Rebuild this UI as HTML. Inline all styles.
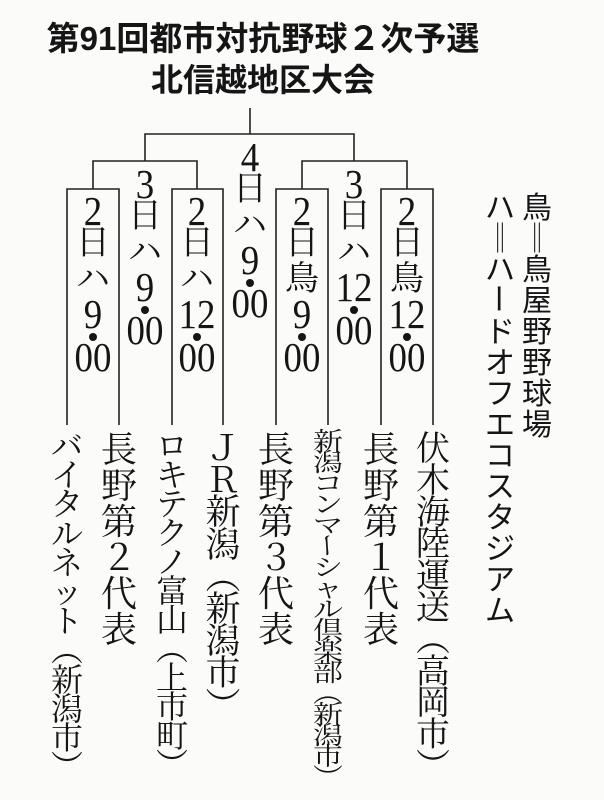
<!DOCTYPE html>
<html><head><meta charset="utf-8"><style>
body{margin:0;background:#fff;}
#c{position:relative;width:604px;height:800px;overflow:hidden;background:#fbfbfa;color:#151515;}
.t{position:absolute;left:0;width:526px;text-align:center;font-family:"Liberation Sans","Noto Sans CJK JP",sans-serif;font-weight:bold;white-space:nowrap;}
.col{position:absolute;width:50px;}
.col div{position:absolute;left:0;width:50px;text-align:center;line-height:1;white-space:nowrap;}
.d{font-family:"Liberation Serif",serif;font-size:41px;transform:scaleX(0.9);}
.k{font-family:"Noto Serif CJK JP","Liberation Serif",serif;font-size:34px;}
.col .dot{left:21px;width:8px;height:8px;border-radius:50%;background:#151515;}
.v{position:absolute;top:430px;width:50px;font-family:"Noto Serif CJK JP",serif;}
.v span,.lg span{display:block;text-align:center;white-space:nowrap;overflow:visible;}
.r{transform:rotate(90deg);}
.lg{position:absolute;top:190px;width:40px;font-family:"Noto Sans CJK JP",sans-serif;font-size:30px;}
.lg span{height:31px;line-height:31px;}
</style></head><body><div id="c">
<div class="t" style="top:12px;font-size:33px;">第91回都市対抗野球２次予選</div>
<div class="t" style="top:55px;font-size:32px;">北信越地区大会</div>
<svg width="604" height="800" style="position:absolute;left:0;top:0" fill="none" stroke="#222" stroke-width="1.6">
<path d="M250 108V134M145 161V134H354V161"/>
<path d="M93 189V161H197V189M302 189V161H407V189"/>
<path d="M67 425V189H119V425M172 425V189H223V425M276 425V189H328V425M381 425V189H433V425"/>
</svg>
<div class="col" style="left:68px;top:197px"><div class="d" style="top:-6px">2</div><div class="k" style="top:26px">日</div><div class="k" style="top:62px">ハ</div><div class="d" style="top:97px">9</div><div class="dot" style="top:136px"></div><div class="d" style="top:140px">00</div></div>
<div class="col" style="left:120px;top:170px"><div class="d" style="top:-6px">3</div><div class="k" style="top:26px">日</div><div class="k" style="top:62px">ハ</div><div class="d" style="top:97px">9</div><div class="dot" style="top:136px"></div><div class="d" style="top:140px">00</div></div>
<div class="col" style="left:172px;top:197px"><div class="d" style="top:-6px">2</div><div class="k" style="top:26px">日</div><div class="k" style="top:62px">ハ</div><div class="d" style="top:97px">12</div><div class="dot" style="top:136px"></div><div class="d" style="top:140px">00</div></div>
<div class="col" style="left:225px;top:143px"><div class="d" style="top:-6px">4</div><div class="k" style="top:26px">日</div><div class="k" style="top:62px">ハ</div><div class="d" style="top:97px">9</div><div class="dot" style="top:136px"></div><div class="d" style="top:140px">00</div></div>
<div class="col" style="left:277px;top:197px"><div class="d" style="top:-6px">2</div><div class="k" style="top:26px">日</div><div class="k" style="top:62px">鳥</div><div class="d" style="top:97px">9</div><div class="dot" style="top:136px"></div><div class="d" style="top:140px">00</div></div>
<div class="col" style="left:329px;top:170px"><div class="d" style="top:-6px">3</div><div class="k" style="top:26px">日</div><div class="k" style="top:62px">ハ</div><div class="d" style="top:97px">12</div><div class="dot" style="top:136px"></div><div class="d" style="top:140px">00</div></div>
<div class="col" style="left:382px;top:197px"><div class="d" style="top:-6px">2</div><div class="k" style="top:26px">日</div><div class="k" style="top:62px">鳥</div><div class="d" style="top:97px">12</div><div class="dot" style="top:136px"></div><div class="d" style="top:140px">00</div></div>

<div class="v" style="left:42px;font-size:32px;line-height:29.2px"><span>バ</span><span>イ</span><span>タ</span><span>ル</span><span>ネ</span><span>ッ</span><span>ト</span><span>︵</span><span>新</span><span>潟</span><span>市</span><span>︶</span></div>
<div class="v" style="left:94px;font-size:36px;line-height:36px"><span>長</span><span>野</span><span>第</span><span>２</span><span>代</span><span>表</span></div>
<div class="v" style="left:147px;font-size:32px;line-height:29px"><span>ロ</span><span>キ</span><span>テ</span><span>ク</span><span>ノ</span><span>富</span><span>山</span><span>︵</span><span>上</span><span>市</span><span>町</span><span>︶</span></div>
<div class="v" style="left:198px;font-size:35px;line-height:32.2px"><span>Ｊ</span><span>Ｒ</span><span>新</span><span>潟</span><span>︵</span><span>新</span><span>潟</span><span>市</span><span>︶</span></div>
<div class="v" style="left:251px;font-size:36px;line-height:36px"><span>長</span><span>野</span><span>第</span><span>３</span><span>代</span><span>表</span></div>
<div class="v" style="left:303px;font-size:25px;line-height:21px;transform:scaleX(1.2)"><span>新</span><span>潟</span><span>コ</span><span>ン</span><span>マ</span><span class="r">ー</span><span>シ</span><span>ャ</span><span>ル</span><span>倶</span><span>楽</span><span>部</span><span>︵</span><span>新</span><span>潟</span><span>市</span><span>︶</span></div>
<div class="v" style="left:356px;font-size:36px;line-height:36px"><span>長</span><span>野</span><span>第</span><span>１</span><span>代</span><span>表</span></div>
<div class="v" style="left:408px;font-size:34px;line-height:31.8px"><span>伏</span><span>木</span><span>海</span><span>陸</span><span>運</span><span>送</span><span>︵</span><span>高</span><span>岡</span><span>市</span><span>︶</span></div>

<div class="lg" style="left:517px"><span>鳥</span><span>‖</span><span>鳥</span><span>屋</span><span>野</span><span>野</span><span>球</span><span>場</span></div>
<div class="lg" style="left:480px"><span>ハ</span><span>‖</span><span>ハ</span><span class="r">ー</span><span>ド</span><span>オ</span><span>フ</span><span>エ</span><span>コ</span><span>ス</span><span>タ</span><span>ジ</span><span>ア</span><span>ム</span></div>
</div></body></html>
